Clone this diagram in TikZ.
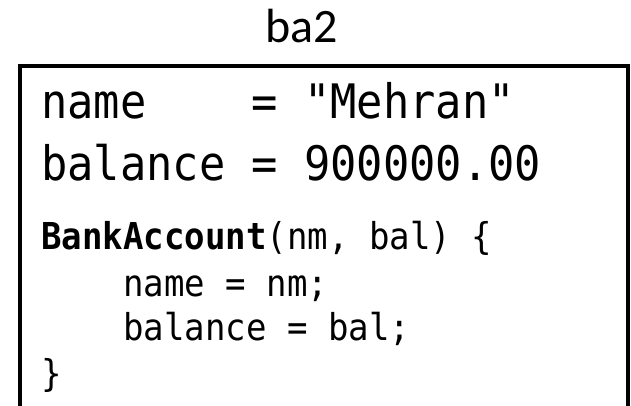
\documentclass[tikz,border=0pt]{standalone}
\usepackage{fontspec}
\setmainfont{Carlito}
\newfontfamily\codefont[FakeStretch=0.92]{DejaVu Sans Mono}
\begin{document}
\begin{tikzpicture}[x=1pt,y=-1pt,
  bigcode/.style={anchor=base west,inner sep=0pt,font=\codefont\fontsize{47.5}{57}\selectfont},
  smallcode/.style={anchor=base west,inner sep=0pt,font=\codefont\fontsize{37}{44}\selectfont},
  objbox/.style={draw=black,line width=4pt},
  lbl/.style={anchor=base,inner sep=0pt,font=\fontsize{48}{56}\selectfont}]
\useasboundingbox (0,0) rectangle (631,405);
\node[lbl] (title) at (302,42) {ba2};
\draw[objbox] (20,66) rectangle (627.5,430);
\node[bigcode] (l1) at (41,118) {name\ \ \ \ = "Mehran"};
\node[bigcode] (l2) at (41,180) {balance = 900000.00};
\node[smallcode] (l3) at (41,249) {\textbf{BankAccount}(nm, bal) \{};
\node[smallcode] (l4) at (41,296) {\ \ \ \ name = nm;};
\node[smallcode] (l5) at (41,340) {\ \ \ \ balance = bal;};
\node[smallcode] (l6) at (41,386) {\}};
\end{tikzpicture}
\end{document}
